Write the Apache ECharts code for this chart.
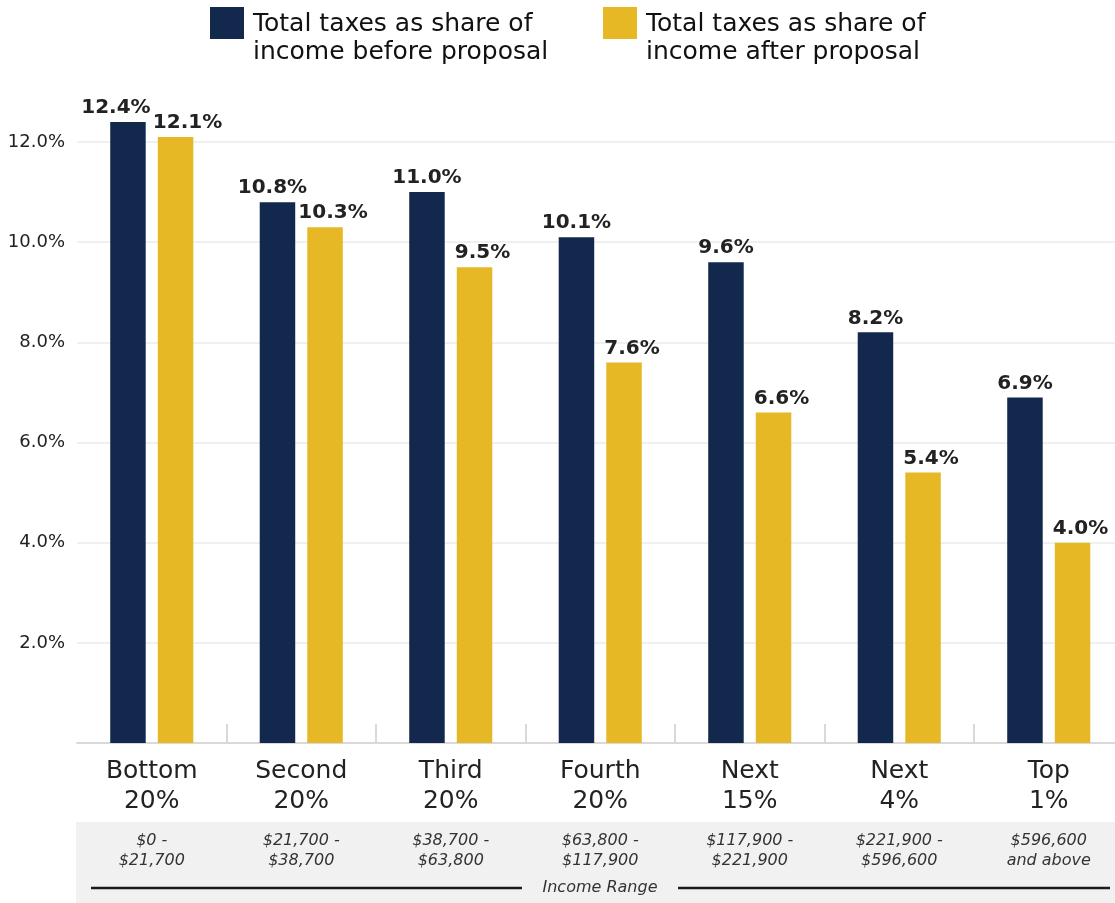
<!DOCTYPE html>
<html>
<head>
<meta charset="utf-8">
<script src="https://cdn.jsdelivr.net/npm/echarts@6/dist/echarts.min.js"></script>
<style>
  html, body { margin: 0; padding: 0; background: #ffffff; }
  #chart { width: 1115px; height: 903px; }
</style>
</head>
<body>
<div id="chart"></div>
<script>
// ---- data ----
const categories = ['Bottom\n20%', 'Second\n20%', 'Third\n20%', 'Fourth\n20%', 'Next\n15%', 'Next\n4%', 'Top\n1%'];
const incomeRanges = ['$0 -\n$21,700', '$21,700 -\n$38,700', '$38,700 -\n$63,800', '$63,800 -\n$117,900', '$117,900 -\n$221,900', '$221,900 -\n$596,600', '$596,600\nand above'];
const seriesNames = ['Total taxes as share of\nincome before proposal', 'Total taxes as share of\nincome after proposal'];
const beforeProposal = [12.4, 10.8, 11.0, 10.1, 9.6, 8.2, 6.9];
const afterProposal = [12.1, 10.3, 9.5, 7.6, 6.6, 5.4, 4.0];
const yTicks = [0, 2, 4, 6, 8, 10, 12];

// ---- styling ----
const NAVY = '#12294d';
const GOLD = '#e6b825';
const beforeLabelShift = { 0: -12, 1: -5 };
const afterLabelShift = { 0: 12 };
// square icon sitting at the top of a taller (invisible) box so it lines up with the first text line
const LEGEND_ICON = 'path://M0,0H34V32H0Z M38,62L38,62';

const chart = echarts.init(document.getElementById('chart'));

function withShift(values, shifts, base) {
  return values.map((v, i) => {
    const dx = (shifts[i] !== undefined) ? shifts[i] : base;
    return { value: v, label: { offset: [dx, 0] } };
  });
}

const valueLabel = {
  show: true,
  position: 'top',
  distance: 4,
  fontFamily: 'DejaVu Sans',
  fontWeight: 'bold',
  fontSize: 20,
  color: '#222222',
  formatter: p => p.value.toFixed(1) + '%'
};

const legendText = {
  fontFamily: 'DejaVu Sans',
  fontSize: 25,
  lineHeight: 28,
  color: '#111111'
};

function legendAt(name, left) {
  return {
    data: [name], left: left, top: 2, padding: 5,
    icon: LEGEND_ICON, itemWidth: 38, itemHeight: 62,
    textStyle: legendText, selectedMode: false
  };
}

const option = {
  animation: false,
  backgroundColor: '#ffffff',
  legend: [legendAt(seriesNames[0], 205), legendAt(seriesNames[1], 598)],
  grid: { left: 77, top: 122, width: 1046.5, bottom: 160, containLabel: false, outerBoundsMode: 'none' },
  xAxis: [
    {
      type: 'category',
      data: categories,
      boundaryGap: true,
      axisLine: { show: true, lineStyle: { color: '#d9d9d9', width: 2 } },
      axisTick: { show: true, inside: true, length: 19, alignWithLabel: false, interval: (i) => i !== 0, lineStyle: { color: '#d9d9d9', width: 2 } },
      axisLabel: { fontFamily: 'DejaVu Sans', fontSize: 25, lineHeight: 30, color: '#222222', margin: 13, interval: 0 },
      splitLine: { show: false }
    },
    {
      type: 'category',
      data: incomeRanges,
      position: 'bottom',
      offset: 80,
      axisLine: { show: false },
      axisTick: { show: false },
      axisLabel: { fontFamily: 'DejaVu Sans', fontStyle: 'italic', fontSize: 16, lineHeight: 20, color: '#333333', margin: 8, interval: 0 },
      splitLine: { show: false }
    }
  ],
  yAxis: {
    type: 'value',
    min: yTicks[0],
    max: 12.4,
    interval: yTicks[1] - yTicks[0],
    axisLine: { show: false },
    axisTick: { show: false },
    axisLabel: {
      fontFamily: 'DejaVu Sans',
      fontSize: 18,
      color: '#222222',
      margin: 12,
      showMaxLabel: false,
      formatter: v => (v === 0 ? '' : v.toFixed(1) + '%')
    },
    splitLine: { show: true, showMaxLine: false, lineStyle: { color: '#f0f0f0', width: 2 } }
  },
  series: [
    {
      name: seriesNames[0],
      type: 'bar',
      xAxisIndex: 0,
      data: withShift(beforeProposal, beforeLabelShift, 0),
      barWidth: 35.5,
      barGap: '34%',
      itemStyle: { color: NAVY },
      label: valueLabel
    },
    {
      name: seriesNames[1],
      type: 'bar',
      xAxisIndex: 0,
      data: withShift(afterProposal, afterLabelShift, 8),
      barWidth: 35.5,
      barGap: '34%',
      itemStyle: { color: GOLD },
      label: valueLabel
    }
  ],
  graphic: [
    { type: 'rect', z: -10, silent: true, shape: { x: 76, y: 822, width: 1039, height: 81 }, style: { fill: '#f0f1f0' } },
    { type: 'line', z: -5, silent: true, shape: { x1: 91, y1: 888, x2: 522, y2: 888 }, style: { stroke: '#1a1a1a', lineWidth: 2.5 } },
    { type: 'line', z: -5, silent: true, shape: { x1: 678, y1: 888, x2: 1110, y2: 888 }, style: { stroke: '#1a1a1a', lineWidth: 2.5 } },
    { type: 'text', z: -5, silent: true, x: 600, y: 888, style: { text: 'Income Range', fontFamily: 'DejaVu Sans', fontStyle: 'italic', fontSize: 16, fill: '#333333', align: 'center', verticalAlign: 'middle' } }
  ]
};

chart.setOption(option);
</script>
</body>
</html>
